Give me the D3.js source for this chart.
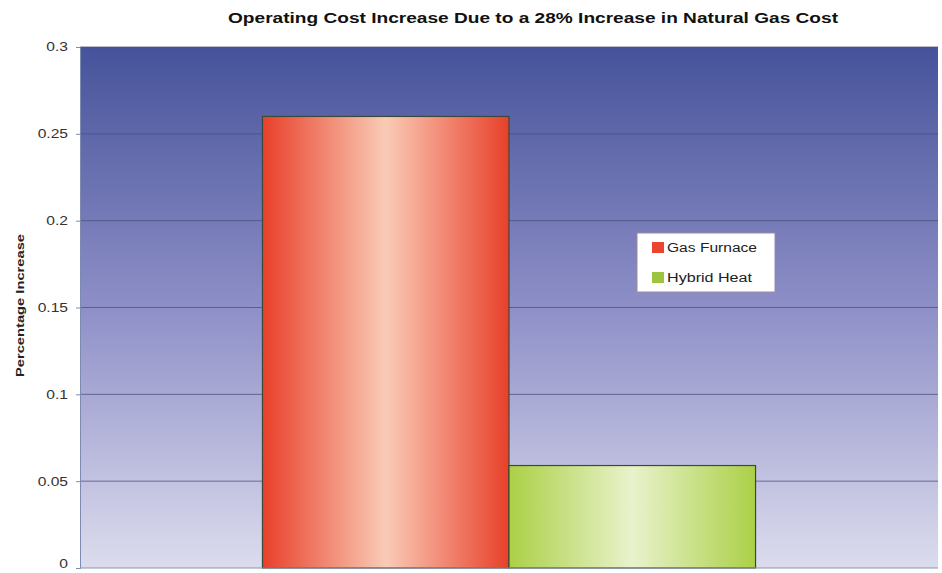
<!DOCTYPE html>
<html>
<head>
<meta charset="utf-8">
<script src="https://cdn.jsdelivr.net/npm/d3@7"></script>
<style>
  body { margin: 0; background: #fff; }
  text { font-family: "Liberation Sans", Arial, sans-serif; }
</style>
</head>
<body>
<div id="chart"></div>
<script>
// chart data
var category = ["Operating Cost"];
var seriesNames = ["Gas Furnace", "Hybrid Heat"];
var seriesValues = [0.26, 0.059];
var yTicks = [0, 0.05, 0.1, 0.15, 0.2, 0.25, 0.3];
var yTickLabels = ["0", "0.05", "0.1", "0.15", "0.2", "0.25", "0.3"];

var W = 942, H = 573;
const margin = {top: 47, right: 4, bottom: 5, left: 80},
    width = W - margin.left - margin.right,
    height = H - margin.top - margin.bottom;

var svg = d3.select("#chart")
    .append("svg")
    .attr("width", W)
    .attr("height", H);

var defs = svg.append("defs");

// stretch text horizontally, like the scanned original
function stretch(sel, k) {
    sel.each(function() {
        var len = this.getComputedTextLength();
        d3.select(this)
            .attr("textLength", len * k)
            .attr("lengthAdjust", "spacingAndGlyphs");
    });
}

// plot background gradient
var bg = defs.append("linearGradient")
    .attr("id", "bgGrad")
    .attr("x1", 0).attr("y1", 0).attr("x2", 0).attr("y2", 1);
bg.append("stop").attr("offset", "0%").attr("stop-color", "#46539a");
bg.append("stop").attr("offset", "50%").attr("stop-color", "#8e8fc7");
bg.append("stop").attr("offset", "100%").attr("stop-color", "#dcdcee");

// bar gradients (horizontal shine)
function barGrad(id, edge, mid) {
    var g = defs.append("linearGradient")
        .attr("id", id)
        .attr("x1", 0).attr("y1", 0).attr("x2", 1).attr("y2", 0);
    g.append("stop").attr("offset", "0%").attr("stop-color", edge);
    g.append("stop").attr("offset", "50%").attr("stop-color", mid);
    g.append("stop").attr("offset", "100%").attr("stop-color", edge);
}
barGrad("redGrad", "#e8402a", "#f9cbb6");
barGrad("greenGrad", "#abd046", "#e9f2cc");

var fills = ["url(#redGrad)", "url(#greenGrad)"];
var legendColors = ["#e8462e", "#9cc43c"];

var g = svg.append("g")
    .attr("transform", "translate(" + margin.left + "," + margin.top + ")");

g.append("rect")
    .attr("width", width)
    .attr("height", height)
    .attr("fill", "url(#bgGrad)");

var y = d3.scaleLinear()
    .domain([0, 0.3])
    .range([height, 0]);

var x0 = d3.scaleBand()
    .domain(category)
    .range([0, width])
    .paddingInner(0)
    .paddingOuter(0.37);

var x1 = d3.scaleBand()
    .domain(seriesNames)
    .range([0, x0.bandwidth()]);

// gridlines
g.selectAll("line.grid")
    .data(yTicks.filter(function(d) { return d > 0; }))
    .enter()
    .append("line")
    .attr("x1", 0)
    .attr("x2", width)
    .attr("y1", function(d) { return y(d); })
    .attr("y2", function(d) { return y(d); })
    .attr("stroke", "#48507a")
    .attr("stroke-opacity", 0.75)
    .attr("stroke-width", 1);

// y axis
var yAxis = g.append("g")
    .call(d3.axisLeft(y)
        .tickValues(yTicks)
        .tickFormat(function(d, i) { return yTickLabels[i]; })
        .tickSize(4)
        .tickPadding(8));
yAxis.select(".domain").attr("stroke", "#7d8bb0");
yAxis.selectAll(".tick line").attr("stroke", "#7d8bb0");
yAxis.selectAll("text")
    .style("font-size", "12px")
    .attr("fill", "#333")
    .call(stretch, 1.3);
// keep the "0" label inside the page
yAxis.selectAll("text")
    .filter(function(d) { return d === 0; })
    .attr("dy", "-0.05em");

// bars
g.selectAll("rect.bar")
    .data(seriesValues)
    .enter()
    .append("rect")
    .attr("class", "bar")
    .attr("x", function(d, i) { return x0(category[0]) + x1(seriesNames[i]); })
    .attr("y", function(d) { return y(d); })
    .attr("width", x1.bandwidth())
    .attr("height", function(d) { return y(0) - y(d); })
    .attr("fill", function(d, i) { return fills[i]; })
    .attr("stroke", "#3a4a3a")
    .attr("stroke-width", 1.2);

// bottom axis line
g.append("line")
    .attr("x1", 0).attr("x2", width)
    .attr("y1", height).attr("y2", height)
    .attr("stroke", "#8a94b0");

// title
svg.append("text")
    .attr("x", 533)
    .attr("y", 23)
    .attr("text-anchor", "middle")
    .style("font-size", "14px")
    .style("font-weight", "bold")
    .attr("fill", "#111")
    .attr("textLength", 610)
    .attr("lengthAdjust", "spacingAndGlyphs")
    .text("Operating Cost Increase Due to a 28% Increase in Natural Gas Cost");

// y label
svg.append("text")
    .attr("transform", "translate(24," + (margin.top + height / 2 - 2) + ") rotate(-90)")
    .attr("text-anchor", "middle")
    .style("font-size", "11px")
    .style("font-weight", "bold")
    .attr("fill", "#222")
    .attr("textLength", 143)
    .attr("lengthAdjust", "spacingAndGlyphs")
    .text("Percentage Increase");

// legend
var lg = svg.append("g").attr("transform", "translate(637,233)");
lg.append("rect")
    .attr("width", 138)
    .attr("height", 59)
    .attr("fill", "#fff")
    .attr("stroke", "#9a8aa8");
seriesNames.forEach(function(name, i) {
    lg.append("rect")
        .attr("x", 15)
        .attr("y", 9 + i * 30)
        .attr("width", 12)
        .attr("height", 11)
        .attr("fill", legendColors[i]);
    lg.append("text")
        .attr("x", 30)
        .attr("y", 19 + i * 30)
        .style("font-size", "12px")
        .attr("fill", "#222")
        .attr("textLength", i === 0 ? 90 : 85)
        .attr("lengthAdjust", "spacingAndGlyphs")
        .text(name);
});
</script>
</body>
</html>
